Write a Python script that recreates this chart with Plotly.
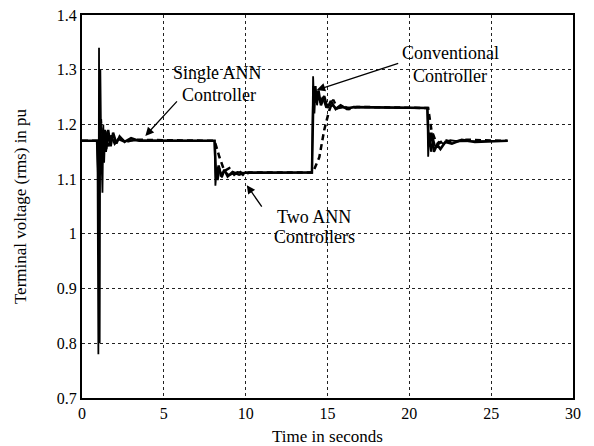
import plotly.graph_objects as go

# ---- data ----
t_conv = [0, 0.9, 0.95, 1.0, 1.04, 1.08, 1.12, 1.17, 1.25, 1.3, 1.35, 1.42, 1.5, 1.6, 1.7, 1.8, 2.0, 2.2, 2.5, 3.0,
          8.1, 8.15, 8.22, 8.3, 8.4, 8.55, 8.7, 9.0, 9.5, 10.0,
          14.05, 14.12, 14.2, 14.28, 14.36, 14.45, 14.55, 14.7, 14.9, 15.2, 15.6, 16.0,
          21.1, 21.15, 21.22, 21.32, 21.45, 21.6, 21.8, 22.1, 22.5, 23.0, 26.0]
v_conv = [1.17, 1.17, 1.12, 0.78, 1.34, 0.80, 1.30, 1.16, 1.075, 1.20, 1.13, 1.19, 1.155, 1.185, 1.162, 1.178, 1.166, 1.173, 1.169, 1.171,
          1.17, 1.088, 1.115, 1.098, 1.12, 1.103, 1.115, 1.107, 1.113, 1.111,
          1.112, 1.288, 1.22, 1.27, 1.235, 1.255, 1.24, 1.25, 1.232, 1.236, 1.229, 1.231,
          1.23, 1.141, 1.185, 1.15, 1.175, 1.158, 1.168, 1.165, 1.171, 1.169, 1.17]

t_single = [0, 0.95, 1.0, 1.1, 1.2, 1.3, 1.45, 1.6, 1.75, 1.9, 2.1, 2.3, 2.6, 3.0, 3.5, 8.1,
            8.2, 8.35, 8.5, 8.7, 8.9, 9.2, 9.6, 10.0, 14.05,
            14.15, 14.3, 14.45, 14.6, 14.8, 15.0, 15.2, 15.5, 15.8, 16.2, 16.6, 21.1,
            21.2, 21.35, 21.5, 21.7, 21.9, 22.2, 22.6, 23.2, 24.0, 26.0]
v_single = [1.17, 1.17, 1.10, 1.20, 1.12, 1.19, 1.15, 1.19, 1.16, 1.185, 1.165, 1.178, 1.168, 1.175, 1.17, 1.17,
            1.10, 1.125, 1.105, 1.117, 1.105, 1.113, 1.108, 1.112, 1.112,
            1.27, 1.24, 1.262, 1.235, 1.252, 1.23, 1.243, 1.228, 1.235, 1.228, 1.232, 1.23,
            1.16, 1.185, 1.15, 1.163, 1.155, 1.168, 1.165, 1.172, 1.168, 1.17]

t_two = [0, 0.95, 1.05, 1.15, 1.3, 1.45, 1.6, 1.8, 2.0, 2.3, 2.7, 3.2, 8.1,
         8.4, 8.7, 9.0, 9.3, 9.6, 9.9, 10.2, 14.1,
         14.5, 14.8, 15.1, 15.35, 15.6, 15.9, 16.3, 16.8, 21.15,
         21.35, 21.6, 21.8, 22.1, 22.6, 23.5, 26.0]
v_two = [1.17, 1.17, 1.13, 1.21, 1.14, 1.19, 1.16, 1.18, 1.165, 1.175, 1.168, 1.172, 1.17,
         1.14, 1.115, 1.12, 1.108, 1.115, 1.106, 1.112, 1.112,
         1.14, 1.19, 1.225, 1.245, 1.23, 1.235, 1.228, 1.232, 1.23,
         1.19, 1.17, 1.165, 1.172, 1.168, 1.172, 1.17]

x_ticks = [0, 5, 10, 15, 20, 25, 30]
y_ticks = [0.7, 0.8, 0.9, 1.0, 1.1, 1.2, 1.3, 1.4]
y_tick_text = ["0.7", "0.8", "0.9", "1", "1.1", "1.2", "1.3", "1.4"]

FONT = "Liberation Serif"

fig = go.Figure()
fig.add_trace(go.Scatter(x=t_conv, y=v_conv, mode="lines", name="Conventional Controller",
                         line=dict(color="black", width=1.8)))
fig.add_trace(go.Scatter(x=t_single, y=v_single, mode="lines", name="Single ANN Controller",
                         line=dict(color="black", width=2.5)))
fig.add_trace(go.Scatter(x=t_two, y=v_two, mode="lines", name="Two ANN Controllers",
                         line=dict(color="black", width=2.5, dash="6px,4px")))

axis_common = dict(showline=True, linecolor="black", linewidth=2, mirror=True,
                   showgrid=True, gridcolor="#222", gridwidth=1, griddash="dot",
                   zeroline=False, ticks="", automargin=False, ticklabeloverflow="allow",
                   tickfont=dict(family=FONT, size=16, color="black"))

fig.update_xaxes(range=[0, 30], tickvals=x_ticks, **axis_common,
                 title=dict(text="Time in seconds", font=dict(family=FONT, size=17, color="black"), standoff=11))
fig.update_yaxes(range=[0.7, 1.4], tickvals=y_ticks, ticktext=y_tick_text, **axis_common,
                 title=dict(text="Terminal voltage (rms) in pu", font=dict(family=FONT, size=17, color="black"), standoff=26))

afont = dict(family=FONT, size=18, color="black")
ann = [
    # arrows (tip in data coords, tail as pixel offsets)
    dict(x=3.87, y=1.179, ax=33, ay=-36, text="", showarrow=True, arrowhead=2, arrowsize=1.3, arrowwidth=1.3, arrowcolor="black"),
    dict(x=14.34, y=1.263, ax=83, ay=-27, text="", showarrow=True, arrowhead=2, arrowsize=1.3, arrowwidth=1.3, arrowcolor="black"),
    dict(x=10.07, y=1.089, ax=16, ay=23, text="", showarrow=True, arrowhead=2, arrowsize=1.3, arrowwidth=1.3, arrowcolor="black"),
    # labels
    dict(x=8.26, y=1.2945, text="Single ANN", showarrow=False, font=afont),
    dict(x=8.37, y=1.2537, text="Controller", showarrow=False, font=afont),
    dict(x=22.5, y=1.3305, text="Conventional", showarrow=False, font=afont),
    dict(x=22.48, y=1.2885, text="Controller", showarrow=False, font=afont),
    dict(x=14.18, y=1.0313, text="Two ANN", showarrow=False, font=afont),
    dict(x=14.18, y=0.9947, text="Controllers", showarrow=False, font=afont),
]
fig.update_layout(annotations=ann)

# page body has an 8px margin, so the figure is shifted by 8px; compensate
fig.update_layout(width=586, height=438, margin=dict(l=73.5, r=20.5, t=7, b=48),
                  plot_bgcolor="white", paper_bgcolor="white", showlegend=False,
                  font=dict(family=FONT, color="black"))

fig.write_html("out.html")
